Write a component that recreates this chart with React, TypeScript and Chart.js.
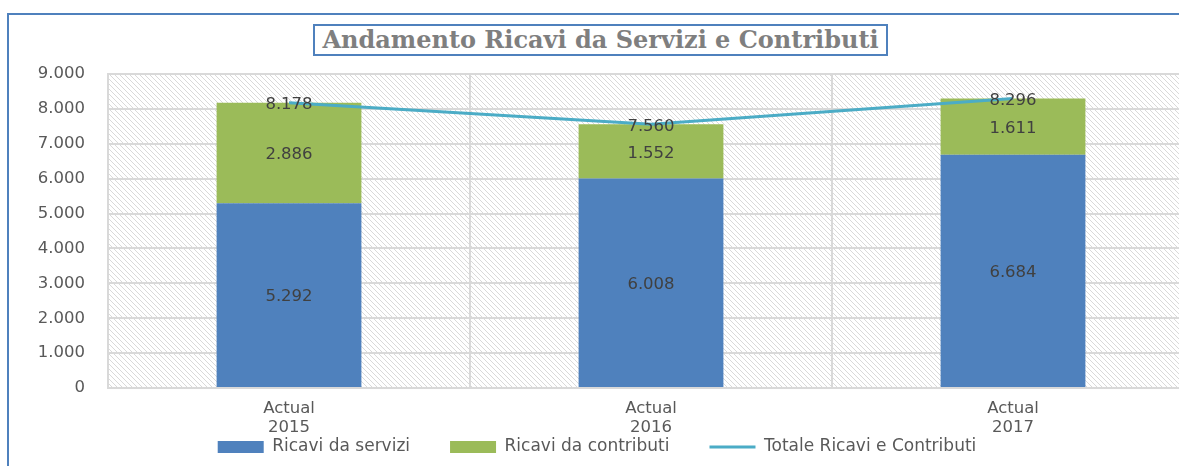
import React, { useEffect, useRef } from 'react';
import { Chart, registerables } from 'chart.js';

Chart.register(...registerables);

const chartTitle = 'Andamento Ricavi da Servizi e Contributi';
const categories = [['Actual', '2015'], ['Actual', '2016'], ['Actual', '2017']];
const seriesNames = ['Ricavi da servizi', 'Ricavi da contributi', 'Totale Ricavi e Contributi'];
const ricaviServizi = [5292, 6008, 6684];
const ricaviContributi = [2886, 1552, 1611];
const totaleRicavi = [8178, 7560, 8296];
const yMin = 0;
const yMax = 9000;
const yStep = 1000;

const BLUE = '#4f81bd';
const GREEN = '#9bbb59';
const TEAL = '#4bacc6';
const FONT = '"DejaVu Sans", sans-serif';
const LEGEND_PAD = 40;
const X_AXIS_H = 50;

const fmt = (n: number) => String(n).replace(/\B(?=(\d{3})+(?!\d))/g, '.');

function makePattern(ctx: CanvasRenderingContext2D) {
  const n = 5;
  const c = document.createElement('canvas');
  c.width = n;
  c.height = n;
  const p = c.getContext('2d')!;
  p.fillStyle = '#ffffff';
  p.fillRect(0, 0, n, n);
  p.fillStyle = '#d9d9d9';
  for (let i = 0; i < n; i++) p.fillRect(i, i, 1, 1);
  return ctx.createPattern(c, 'repeat');
}

const hatchPlugin = {
  id: 'hatch',
  beforeDraw(chart: any) {
    const { ctx, chartArea } = chart;
    if (!chartArea) return;
    ctx.save();
    const pat = makePattern(ctx);
    if (pat) ctx.fillStyle = pat;
    ctx.fillRect(chartArea.left, chartArea.top, chartArea.right - chartArea.left, chartArea.bottom - chartArea.top);
    ctx.restore();
  },
};

// place the x axis labels and the legend where the reference has them
const layoutPlugin = {
  id: 'layoutTweak',
  afterLayout(chart: any) {
    const x = chart.scales.x;
    x.bottom = x.top + X_AXIS_H;
    x.height = X_AXIS_H;
    const lg = chart.legend;
    if (lg) {
      const h = lg.bottom - lg.top;
      lg.top = chart.chartArea.bottom + 59 - LEGEND_PAD - 8.5;
      lg.bottom = lg.top + h;
    }
  },
};

const valueLabelPlugin = {
  id: 'valueLabels',
  afterDatasetsDraw(chart: any) {
    const ctx = chart.ctx;
    ctx.save();
    ctx.font = `16.5px ${FONT}`;
    ctx.fillStyle = '#404040';
    ctx.textAlign = 'center';
    ctx.textBaseline = 'middle';
    chart.data.datasets.forEach((ds: any, di: number) => {
      const meta = chart.getDatasetMeta(di);
      meta.data.forEach((el: any, i: number) => {
        const v = ds.data[i];
        const y = ds.type === 'line' ? el.y : (el.y + el.base) / 2;
        ctx.fillText(fmt(v), el.x, y + 2);
      });
    });
    ctx.restore();
  },
};

export default function App() {
  const ref = useRef<HTMLCanvasElement | null>(null);

  useEffect(() => {
    if (!ref.current) return;
    document.body.style.overflow = 'hidden';
    document.documentElement.style.overflow = 'hidden';
    const chart = new Chart(ref.current, {
      type: 'bar',
      data: {
        labels: categories,
        datasets: [
          {
            type: 'bar',
            label: seriesNames[0],
            data: ricaviServizi,
            backgroundColor: BLUE,
            stack: 'ricavi',
            order: 1,
            barPercentage: 0.4,
            categoryPercentage: 1,
          },
          {
            type: 'bar',
            label: seriesNames[1],
            data: ricaviContributi,
            backgroundColor: GREEN,
            stack: 'ricavi',
            order: 1,
            barPercentage: 0.4,
            categoryPercentage: 1,
          },
          {
            type: 'line',
            label: seriesNames[2],
            data: totaleRicavi,
            borderColor: TEAL,
            backgroundColor: TEAL,
            borderWidth: 3,
            pointRadius: 0,
            tension: 0,
            stack: 'totale',
            order: 0,
          } as any,
        ],
      },
      options: {
        responsive: false,
        animation: false,
        layout: { padding: { top: 74, right: 6, left: 0, bottom: 0 } },
        plugins: {
          title: { display: false },
          tooltip: { enabled: false },
          legend: {
            position: 'bottom',
            labels: {
              usePointStyle: true,
              pointStyleWidth: 46,
              boxHeight: 12,
              padding: LEGEND_PAD,
              color: '#595959',
              font: { family: FONT, size: 17 },
              generateLabels: (c: any) =>
                c.data.datasets.map((ds: any, i: number) => ({
                  text: ds.label,
                  fillStyle: ds.type === 'line' ? ds.borderColor : ds.backgroundColor,
                  strokeStyle: ds.type === 'line' ? ds.borderColor : ds.backgroundColor,
                  lineWidth: ds.type === 'line' ? 3 : 0,
                  pointStyle: ds.type === 'line' ? 'line' : 'rect',
                  hidden: false,
                  datasetIndex: i,
                  fontColor: '#595959',
                })),
            },
          },
        },
        scales: {
          x: {
            stacked: true,
            offset: true,
            grid: { display: true, offset: true, color: '#d9d9d9', lineWidth: 2, drawTicks: false },
            border: { display: true, color: '#d9d9d9', width: 2 },
            ticks: {
              color: '#595959',
              font: { family: FONT, size: 16.5, lineHeight: 1.1 },
              padding: 12,
              maxRotation: 0,
            },
            afterFit: (s: any) => {
              // legend height = 17 + pad + 10 ; chart area bottom must be at 388
              s.height = 466 - 388 - (27 + LEGEND_PAD);
            },
          },
          y: {
            stacked: true,
            min: yMin,
            max: yMax,
            grid: { color: '#d9d9d9', lineWidth: 2, drawTicks: false },
            border: { display: true, color: '#d9d9d9', width: 2 },
            ticks: {
              stepSize: yStep,
              color: '#595959',
              font: { family: FONT, size: 16.5 },
              padding: 23,
              callback: (v: any) => fmt(Number(v)),
            },
            afterFit: (s: any) => {
              s.width = 108;
            },
          },
        },
      },
      plugins: [hatchPlugin, layoutPlugin, valueLabelPlugin],
    });
    return () => chart.destroy();
  }, []);

  return (
    <div
      style={{
        position: 'fixed',
        left: 0,
        top: 0,
        width: 1179,
        height: 466,
        overflow: 'hidden',
        background: '#ffffff',
      }}
    >
      <canvas
        ref={ref}
        width={1200}
        height={466}
        style={{ position: 'absolute', left: 0, top: 0, display: 'block' }}
      />
      <div
        style={{ position: 'absolute', left: 7, top: 13, width: 1172, height: 2, background: BLUE }}
      />
      <div
        style={{ position: 'absolute', left: 7, top: 13, width: 2, height: 453, background: BLUE }}
      />
      <div
        style={{
          position: 'absolute',
          left: 313,
          top: 24,
          width: 575,
          height: 32,
          boxSizing: 'border-box',
          border: `2px solid ${BLUE}`,
          background: '#ffffff',
          color: '#7f7f7f',
          fontFamily: '"DejaVu Serif", serif',
          fontWeight: 'bold',
          fontSize: 24,
          lineHeight: '28px',
          textAlign: 'center',
          whiteSpace: 'nowrap',
          overflow: 'visible',
        }}
      >
        {chartTitle}
      </div>
    </div>
  );
}
